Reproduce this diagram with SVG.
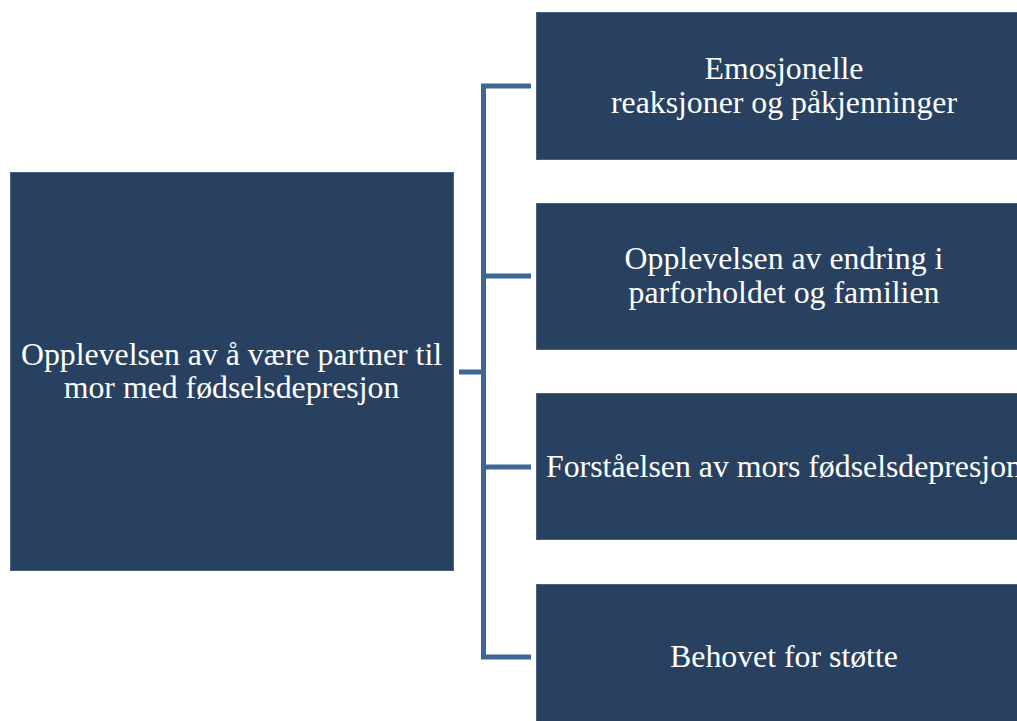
<svg xmlns="http://www.w3.org/2000/svg" width="1017" height="721" viewBox="0 0 1017 721">
<style>
.box{fill:#284161;stroke:#4a6384;stroke-width:1}
.t{font-family:"Liberation Serif","Times New Roman",serif;font-size:31.8px;fill:#ffffff;text-anchor:middle}
.c{fill:none;stroke:#3e6697;stroke-width:5;stroke-linejoin:miter;stroke-linecap:butt}
</style>
<rect width="1017" height="721" fill="#ffffff"/>
<g id="connectors">
<path class="c" d="M531,86 H483.5 V657 H531"/>
<path class="c" d="M459,372 H483.5"/>
<path class="c" d="M483.5,276 H531"/>
<path class="c" d="M483.5,467 H531"/>
</g>
<g id="root">
<rect class="box" x="10.5" y="172.5" width="443" height="398"/>
<text class="t" x="231.5" y="365">Opplevelsen av å være partner til</text>
<text class="t" x="231.5" y="398">mor med fødselsdepresjon</text>
</g>
<g id="n1">
<rect class="box" x="536.5" y="12.5" width="496" height="147"/>
<text class="t" x="784" y="79">Emosjonelle</text>
<text class="t" x="784" y="113">reaksjoner og påkjenninger</text>
</g>
<g id="n2">
<rect class="box" x="536.5" y="203.5" width="496" height="146"/>
<text class="t" x="784" y="269">Opplevelsen av endring i</text>
<text class="t" x="784" y="303">parforholdet og familien</text>
</g>
<g id="n3">
<rect class="box" x="536.5" y="393.5" width="496" height="146"/>
<text class="t" x="784" y="477">Forståelsen av mors fødselsdepresjon</text>
</g>
<g id="n4">
<rect class="box" x="536.5" y="584.5" width="496" height="150"/>
<text class="t" x="784" y="667">Behovet for støtte</text>
</g>
</svg>
